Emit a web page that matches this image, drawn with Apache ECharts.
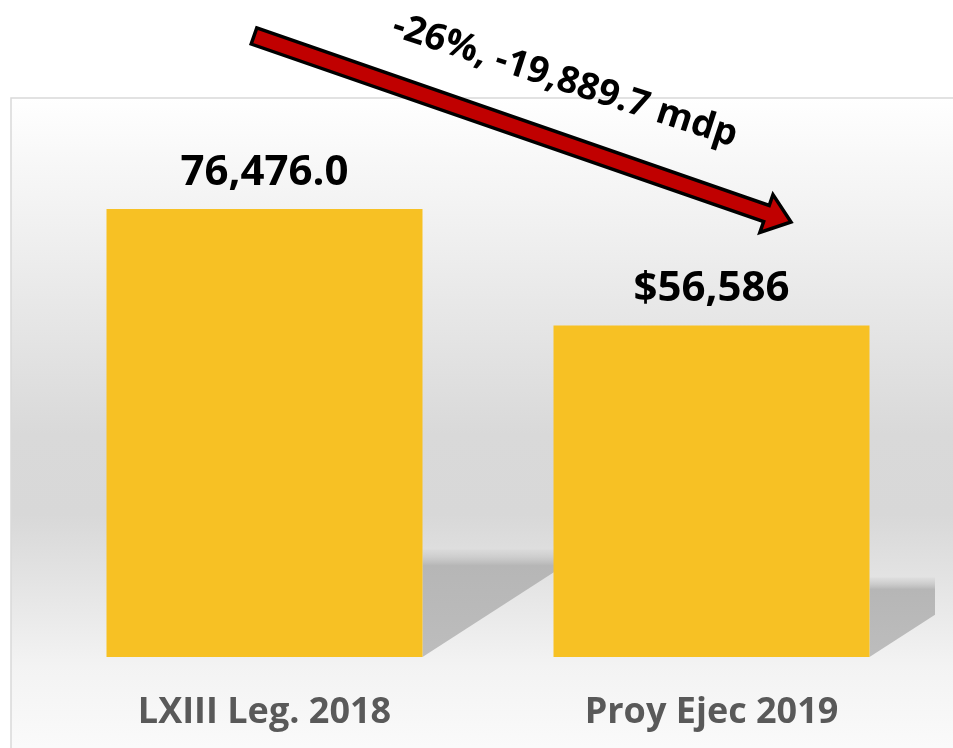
<!DOCTYPE html>
<html>
<head>
<meta charset="utf-8">
<script src="https://cdn.jsdelivr.net/npm/echarts@6/dist/echarts.min.js"></script>
<style>
html,body{margin:0;padding:0;background:#ffffff;}
#chart{width:953px;height:748px;}
</style>
</head>
<body>
<div id="chart"></div>
<script>
// ---- data ----
const categories = ['LXIII Leg. 2018', 'Proy Ejec 2019'];
const values = [76476.0, 56586];
const valueLabels = ['76,476.0', '$56,586'];
const changeText = '-26%, -19,889.7 mdp';

const FONT = 'Open Sans';
const chart = echarts.init(document.getElementById('chart'), null, {renderer: 'canvas'});

const option = {
  animation: false,
  backgroundColor: '#ffffff',
  grid: {left: 41, right: 18, top: 100.5, bottom: 91, containLabel: false},
  xAxis: {
    type: 'category',
    data: categories,
    axisLine: {show: false},
    axisTick: {show: false},
    axisLabel: {
      fontFamily: FONT, fontSize: 36, fontWeight: 'bold', color: '#595959', margin: 38
    }
  },
  yAxis: {
    type: 'value', min: 0, max: 95000,
    show: false,
    splitLine: {show: false}
  },
  series: [{
    type: 'bar',
    data: values,
    barWidth: 316,
    z: 2,
    itemStyle: {color: '#F7C124'},
    label: {
      show: true,
      position: 'top',
      distance: 15,
      fontFamily: FONT, fontSize: 42, fontWeight: 'bold', color: '#000000',
      formatter: p => valueLabels[p.dataIndex]
    }
  }]
};
chart.setOption(option);

// ---- decorations (background panel, bar shadows, arrow) ----
function buildGraphics() {
  const els = [];
  // background panel
  els.push({
    type: 'rect', z: 0, silent: true,
    shape: {x: 11, y: 98, width: 960, height: 660},
    style: {
      fill: new echarts.graphic.LinearGradient(0, 0, 0, 1, [
        {offset: 0.00, color: '#ffffff'},
        {offset: 0.12, color: '#f6f6f6'},
        {offset: 0.31, color: '#e8e8e8'},
        {offset: 0.51, color: '#d9d9d9'},
        {offset: 0.63, color: '#d8d8d8'},
        {offset: 0.71, color: '#e1e1e1'},
        {offset: 0.86, color: '#f3f3f3'},
        {offset: 1.00, color: '#fbfbfb'}
      ]),
      stroke: '#d9d9d9', lineWidth: 1.5
    }
  });
  // perspective shadows to the right of each bar
  const clipRight = 953 - 18;
  const halfW = 316 / 2;
  values.forEach((v, i) => {
    const cx = chart.convertToPixel({xAxisIndex: 0}, i);
    const yb = chart.convertToPixel({yAxisIndex: 0}, 0);
    const yt = chart.convertToPixel({yAxisIndex: 0}, v);
    const xr = cx + halfW;
    const h = (yb - yt) * 0.24;
    const k = 1.55;
    let pts;
    const xTop = xr + k * h;
    if (xTop <= clipRight) {
      pts = [[xr, yb], [xr, yb - h], [xTop, yb - h]];
    } else {
      const yClip = yb - (clipRight - xr) / k;
      pts = [[xr, yb], [xr, yb - h], [clipRight, yb - h], [clipRight, yClip]];
    }
    els.push({
      type: 'polygon', z: 1, silent: true,
      shape: {points: pts},
      style: {
        fill: new echarts.graphic.LinearGradient(0, 0, 0, 1, [
          {offset: 0, color: 'rgba(200,200,200,0.2)'},
          {offset: 0.15, color: '#b6b6b6'},
          {offset: 1, color: '#bdbdbd'}
        ])
      }
    });
  });
  // arrow
  const tail = [254, 36], tip = [791, 222];
  const dx = tip[0] - tail[0], dy = tip[1] - tail[1];
  const L = Math.sqrt(dx * dx + dy * dy);
  const c = dx / L, s = dy / L;
  const w = 8.5, hw = 20, hl = 26;
  const local = [[0, -w], [L - hl, -w], [L - hl, -hw], [L, 0], [L - hl, hw], [L - hl, w], [0, w]];
  const pts = local.map(([x, y]) => [tail[0] + x * c - y * s, tail[1] + x * s + y * c]);
  els.push({
    type: 'polygon', z: 10, silent: true,
    shape: {points: pts},
    style: {fill: '#C00000', stroke: '#000000', lineWidth: 3.5, lineJoin: 'miter'}
  });
  els.push({
    type: 'text', z: 11, silent: true,
    x: 565, y: 81,
    rotation: -18 * Math.PI / 180,
    style: {
      text: changeText,
      fontFamily: FONT, fontSize: 37, fontWeight: 'bold', fill: '#000000',
      align: 'center', verticalAlign: 'middle'
    }
  });
  return els;
}
chart.setOption({graphic: {elements: buildGraphics()}});
</script>
</body>
</html>
